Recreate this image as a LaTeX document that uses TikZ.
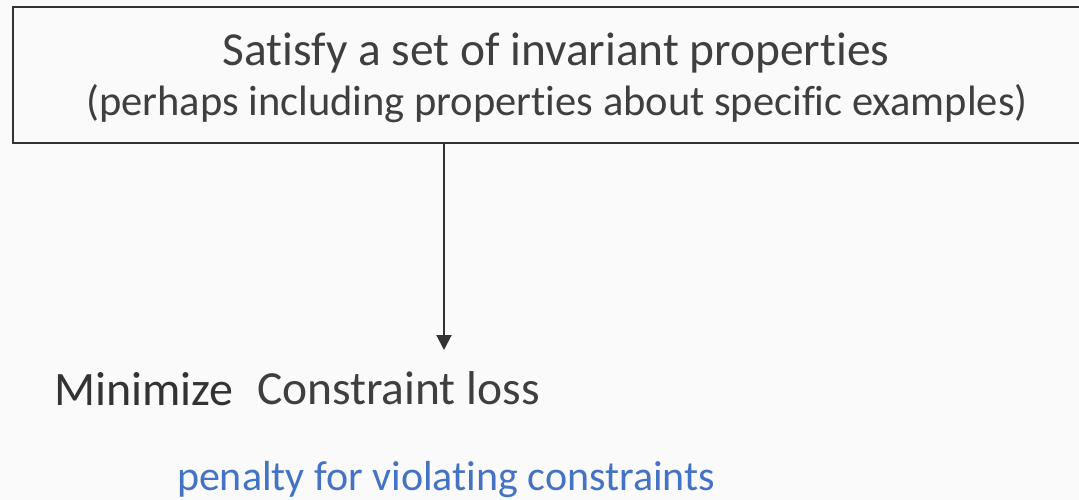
\documentclass[tikz,border=0pt]{standalone}
\usepackage{fontspec}
\setmainfont[Ligatures={NoCommon}]{Carlito}
\usetikzlibrary{arrows.meta}
\definecolor{ink}{HTML}{333333}
\definecolor{softink}{HTML}{3F3F3F}
\definecolor{note}{HTML}{4472C4}
\definecolor{paper}{HTML}{FAFAFA}
\begin{document}
\begin{tikzpicture}[x=1pt,y=-1pt,
  every node/.style={inner sep=0pt, outer sep=0pt, text=softink},
  goalbox/.style={draw=ink, line width=2.5pt, rectangle},
  flow/.style={draw=ink, line width=2pt, -{Triangle[length=15pt,width=15pt]}},
  txt/.style={anchor=base},
  txtw/.style={anchor=base west}]
  % page
  \fill[paper] (0,0) rectangle (1079,500);
  \useasboundingbox (0,0) rectangle (1079,500);
  \clip (0,0) rectangle (1079,500);

  % goal box (runs past the right edge)
  \node[goalbox, minimum width=1080pt, minimum height=136pt] (goal) at (553,75) {};
  \node[txt, font=\fontsize{47.4}{50}\selectfont] (t1) at (556,66) {Satisfy a set of invariant properties};
  \node[txt, font=\fontsize{42.5}{46}\selectfont] (t2) at (557,116) {(perhaps including properties about specific examples)};

  % arrow down to the objective
  \coordinate (tip) at (444,350);
  \draw[flow] (goal.south -| tip) -- (tip);

  % objective
  \node[txtw, text=ink, font=\fontsize{48}{50}\selectfont] (mini) at (54,405) {Minimize};
  \node[txtw, font=\fontsize{47.5}{50}\selectfont] (loss) at (257,404) {Constraint loss};
  \node[txtw, text=note, font=\fontsize{42}{46}\selectfont] (pen) at (177,490) {penalty for violating constraints};
\end{tikzpicture}
\end{document}
